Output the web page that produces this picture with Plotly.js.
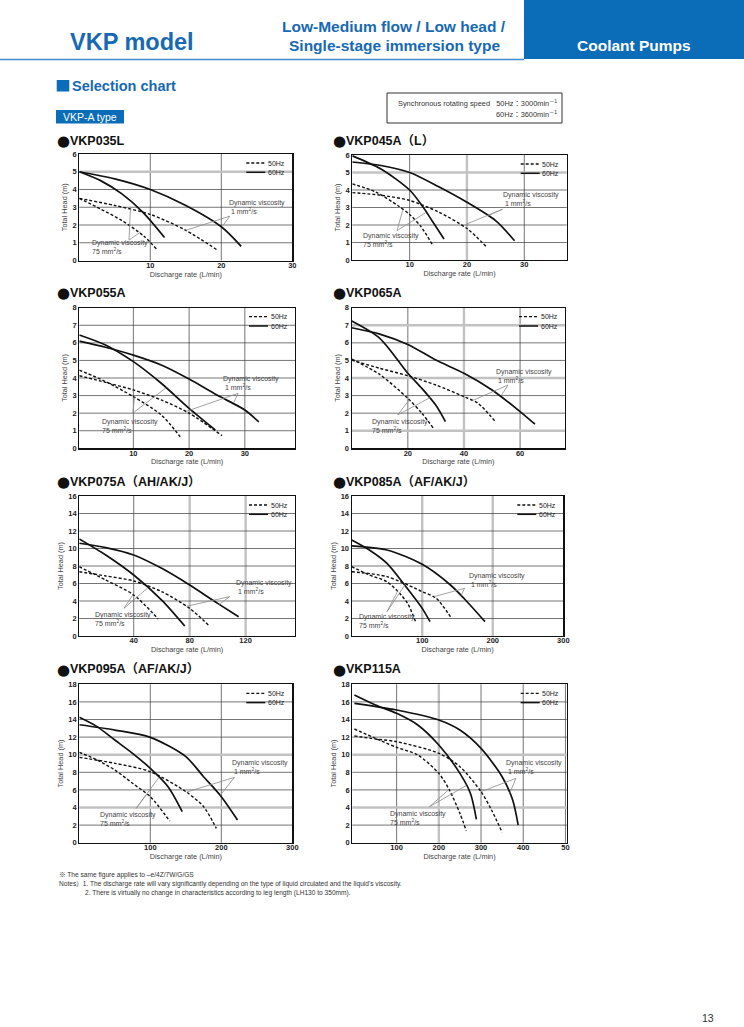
<!DOCTYPE html>
<html><head><meta charset="utf-8">
<script src="https://cdn.plot.ly/plotly-3.0.1.min.js"></script>
<style>html,body{margin:0;padding:0;background:#fff}#chart{width:744px;height:1027px}</style>
</head><body><div id="chart"></div>
<script>
// ================= DATA =================
// Discharge rate q (L/min) and total head h (m); 60Hz solid / 50Hz dashed; 1 mm2/s and 75 mm2/s
const vkp035l_q60_1  = [0,5,10,15,20,22.8],  vkp035l_h60_1  = [5.0,4.6,4.0,3.1,1.9,0.8];
const vkp035l_q60_75 = [0,3,6,9,12],         vkp035l_h60_75 = [5.0,4.5,3.75,2.7,1.3];
const vkp035l_q50_1  = [0,5,10,15,19.4],     vkp035l_h50_1  = [3.5,3.1,2.6,1.7,0.6];
const vkp035l_q50_75 = [0,3,6,9,11],         vkp035l_h50_75 = [3.5,2.9,2.25,1.4,0.6];

const vkp045a_q60_1  = [0,5,10,15,20,25,28.3], vkp045a_h60_1  = [5.6,5.4,5.0,4.2,3.3,2.25,1.1];
const vkp045a_q60_75 = [0,5,10,12.4,14,16],    vkp045a_h60_75 = [5.95,5.2,4.0,3.0,2.2,1.2];
const vkp045a_q50_1  = [0,5,10,15,20,23.4],    vkp045a_h50_1  = [3.85,3.7,3.4,2.75,1.8,0.75];
const vkp045a_q50_75 = [0,4,8,10,12,14.1],     vkp045a_h50_75 = [4.35,3.9,3.1,2.6,1.9,0.8];

const vkp055a_q60_1  = [0.3,5,10,15,20,25,30,32.5], vkp055a_h60_1  = [6.1,5.75,5.3,4.74,3.94,3.03,2.18,1.5];
const vkp055a_q60_75 = [0.3,5,10,15,20,24.7],       vkp055a_h60_75 = [6.45,5.88,4.93,3.7,2.27,1.04];
const vkp055a_q50_1  = [0.3,5,10,15,20,25.9],       vkp055a_h50_1  = [4.13,3.75,3.32,2.75,2.0,0.72];
const vkp055a_q50_75 = [0.3,5,10,15,18.4],          vkp055a_h50_75 = [4.45,3.8,2.94,1.9,0.66];

const vkp065a_q60_1  = [0,10,20,30,40,50,60,65.3], vkp065a_h60_1  = [6.86,6.5,5.91,5.02,4.27,3.32,2.09,1.37];
const vkp065a_q60_75 = [0,10,20,25,30,33.4],       vkp065a_h60_75 = [7.24,6.26,4.27,3.41,2.45,1.52];
const vkp065a_q50_1  = [0,10,20,30,40,45,51],      vkp065a_h50_1  = [5.02,4.55,4.13,3.6,2.94,2.56,1.55];
const vkp065a_q50_75 = [0,10,20,25,29.3],          vkp065a_h50_75 = [5.08,4.2,2.84,2.0,1.1];

const vkp075a_q60_1  = [1,20,40,60,80,100,115], vkp075a_h60_1  = [10.6,10.1,9.26,7.73,5.83,3.73,2.2];
const vkp075a_q60_75 = [1,20,40,60,76.5],       vkp075a_h60_75 = [11.1,9.26,6.97,4.1,1.14];
const vkp075a_q50_1  = [1,20,40,60,80,93.8],    vkp075a_h50_1  = [7.35,6.86,6.29,5.07,3.16,1.18];
const vkp075a_q50_75 = [1,20,40,57.5],          vkp075a_h50_75 = [7.92,6.4,4.69,1.94];

const vkp085a_q60_1  = [0,50,100,140,160,189],  vkp085a_h60_1  = [10.3,9.83,8.19,5.83,4.23,1.64];
const vkp085a_q60_75 = [0,25,50,75,100,111],    vkp085a_h60_75 = [10.97,9.83,8.3,5.83,3.16,1.64];
const vkp085a_q50_1  = [0,50,100,120,140],      vkp085a_h50_1  = [7.35,6.78,5.07,4.3,2.2];
const vkp085a_q50_75 = [0,25,50,70,80,90.5],    vkp085a_h50_75 = [7.92,6.97,6.2,4.69,3.62,1.64];

const vkp095a_q60_1  = [0,50,100,150,175,200,222.8], vkp095a_h60_1  = [13.4,12.8,11.97,9.78,7.5,5.23,2.58];
const vkp095a_q60_75 = [0,25,50,75,100,125,145],     vkp095a_h60_75 = [14.25,13.19,11.67,10.16,8.45,6.37,3.52];
const vkp095a_q50_1  = [0,50,100,150,175,193],       vkp095a_h50_1  = [9.7,9.02,8.07,5.8,4.1,1.63];
const vkp095a_q50_75 = [0,25,50,75,100,127.4],       vkp095a_h50_75 = [10.27,9.4,8.26,6.75,5.23,2.46];

const vkp115a_q60_1  = [0,100,200,250,300,350,375,388], vkp115a_h60_1  = [15.84,15.08,13.94,12.8,10.72,7.5,4.85,2.0];
const vkp115a_q60_75 = [0,50,100,150,200,250,275,289],  vkp115a_h60_75 = [16.79,15.65,14.7,13.38,11.1,7.88,5.6,2.65];
const vkp115a_q50_1  = [0,50,100,200,250,300,325,350],  vkp115a_h50_1  = [12.13,11.78,11.48,10.16,8.64,5.8,3.71,1.17];
const vkp115a_q50_75 = [0,50,100,150,200,225,250,265],  vkp115a_h50_75 = [12.92,11.86,10.84,9.97,7.88,5.99,3.33,1.36];

// Tick labels
const ticksX_035l = [10,20,30], ticksX_045a = [10,20,30], ticksX_055a = [10,20,30], ticksX_065a = [20,40,60];
const ticksX_075a = [40,80,120], ticksX_085a = [100,200,300], ticksX_095a = [100,200,300];
const ticksX_115a = [100,200,300,400,500], tickText_115a = ['100','200','300','400','50'];
const ticksY_6 = [0,1,2,3,4,5,6], ticksY_8 = [0,1,2,3,4,5,6,7,8];
const ticksY_16 = [0,2,4,6,8,10,12,14,16], ticksY_18 = [0,2,4,6,8,10,12,14,16,18];

// Texts
const modelNames = ['VKP035L','VKP045A（L）','VKP055A','VKP065A','VKP075A（AH/AK/J）','VKP085A（AF/AK/J）','VKP095A（AF/AK/J）','VKP115A'];
const legendLabels = ['50Hz','60Hz'];
const viscLabel1 = 'Dynamic viscosity<br> 1 mm<sup>2</sup>/s';
const viscLabel75 = 'Dynamic viscosity<br>75 mm<sup>2</sup>/s';

// ================= LAYOUT / STYLE =================
const W = 744, H = 1027;
const PX = x => x / W, PY = y => 1 - y / H;
const FONT = 'Liberation Sans, Arial, Noto Sans CJK JP, DejaVu Sans, sans-serif';
const BLUE = '#0b6cb8';

const panels = [
 {t:0, tp:[56,141], box:[79.3,292.3,154,260.5], xr:[0,30], yr:[0,6], xt:ticksX_035l, yt:ticksY_6,
  c:[[vkp035l_q60_1,vkp035l_h60_1,0],[vkp035l_q60_75,vkp035l_h60_75,0],[vkp035l_q50_1,vkp035l_h50_1,1],[vkp035l_q50_75,vkp035l_h50_75,1]],
  gx:[], gy:[5],
  a1:{x:20.8,y:3.03,ap:[21.2,2.5],to:[[15,1.7],[20.2,1.95]]},
  a75:{x:1.5,y:0.75,ap:[7.0,1.15],to:[[7.2,2.9],[8.6,1.6]]}},
 {t:1, tp:[332,141], box:[352.3,566.7,155,260], xr:[0,37.4], yr:[0,6], xt:ticksX_045a, yt:ticksY_6,
  c:[[vkp045a_q60_1,vkp045a_h60_1,0],[vkp045a_q60_75,vkp045a_h60_75,0],[vkp045a_q50_1,vkp045a_h50_1,1],[vkp045a_q50_75,vkp045a_h50_75,1]],
  gx:[20], gy:[5],
  a1:{x:26,y:3.5,ap:[26.2,2.9],to:[[19.9,2.05],[23.8,2.55]]},
  a75:{x:1.6,y:1.14,ap:[7.8,1.68],to:[[8.8,2.85],[12.8,2.7]]}},
 {t:2, tp:[56,293], box:[79.3,295,307.7,448.3], xr:[0.3,39], yr:[0,8], xt:ticksX_055a, yt:ticksY_8,
  c:[[vkp055a_q60_1,vkp055a_h60_1,0],[vkp055a_q60_75,vkp055a_h60_75,0],[vkp055a_q50_1,vkp055a_h50_1,1],[vkp055a_q50_75,vkp055a_h50_75,1]],
  gx:[], gy:[],
  a1:{x:25.8,y:3.74,ap:[28.8,3.13],to:[[19.5,2.1],[28,2.6]]},
  a75:{x:4.1,y:1.26,ap:[9.9,2.0],to:[[10.2,2.9],[15.9,3.45]]}},
 {t:3, tp:[332,293], box:[351.7,565,307.7,448.3], xr:[0,76], yr:[0,8], xt:ticksX_065a, yt:ticksY_8,
  c:[[vkp065a_q60_1,vkp065a_h60_1,0],[vkp065a_q60_75,vkp065a_h60_75,0],[vkp065a_q50_1,vkp065a_h50_1,1],[vkp065a_q50_75,vkp065a_h50_75,1]],
  gx:[40], gy:[7,4,1],
  a1:{x:50.8,y:4.13,ap:[55.7,3.6],to:[[42.8,2.7],[53.3,3.0]]},
  a75:{x:6.4,y:1.26,ap:[16.4,1.9],to:[[20.5,2.75],[28.1,2.9]]}},
 {t:4, tp:[56,482], box:[79.3,295,496,636], xr:[1.1,155.3], yr:[0,16], xt:ticksX_075a, yt:ticksY_16,
  c:[[vkp075a_q60_1,vkp075a_h60_1,0],[vkp075a_q60_75,vkp075a_h60_75,0],[vkp075a_q50_1,vkp075a_h50_1,1],[vkp075a_q50_75,vkp075a_h50_75,1]],
  gx:[80,120], gy:[],
  a1:{x:112,y:5.6,ap:[108.6,4.5],to:[[77.7,3.4],[101,3.6]]},
  a75:{x:10.6,y:1.93,ap:[33,3.16],to:[[39.6,4.75],[50,5.5]]}},
 {t:5, tp:[332,482], box:[351.7,563.3,496,636], xr:[0,300], yr:[0,16], xt:ticksX_085a, yt:ticksY_16,
  c:[[vkp085a_q60_1,vkp085a_h60_1,0],[vkp085a_q60_75,vkp085a_h60_75,0],[vkp085a_q50_1,vkp085a_h50_1,1],[vkp085a_q50_75,vkp085a_h50_75,1]],
  gx:[100,200], gy:[],
  a1:{x:164,y:6.45,ap:[160,5.45],to:[[116.7,4.5],[155,4.6]]},
  a75:{x:7,y:1.73,ap:[50,2.78],to:[[65,5.1],[76,5.9]]}},
 {t:6, tp:[56,669], box:[79.3,292.3,684.3,842.7], xr:[0,300], yr:[0,18], xt:ticksX_095a, yt:ticksY_18,
  c:[[vkp095a_q60_1,vkp095a_h60_1,0],[vkp095a_q60_75,vkp095a_h60_75,0],[vkp095a_q50_1,vkp095a_h50_1,1],[vkp095a_q50_75,vkp095a_h50_75,1]],
  gx:[], gy:[10,4],
  a1:{x:212.6,y:8.64,ap:[218.6,7.43],to:[[151,5.75],[198.6,5.4]]},
  a75:{x:26.5,y:2.71,ap:[80,3.9],to:[[95,5.5],[112,7.4]]}},
 {t:7, tp:[332,669], box:[352.3,566.7,684.3,842.7], xr:[-5,503], yr:[0,18], xt:ticksX_115a, xtt:tickText_115a, yt:ticksY_18,
  c:[[vkp115a_q60_1,vkp115a_h60_1,0],[vkp115a_q60_75,vkp115a_h60_75,0],[vkp115a_q50_1,vkp115a_h50_1,1],[vkp115a_q50_75,vkp115a_h50_75,1]],
  gx:[200], gy:[10,4],
  a1:{x:354,y:8.6,ap:[382.5,7.31],to:[[300,5.8],[368,5.6]]},
  a75:{x:80,y:2.8,ap:[178,4.09],to:[[224,6.05],[265,6.5]]}}
];

const traces = [];
const layout = {
  width: W, height: H, margin: {l:0, r:0, t:0, b:0}, showlegend: false,
  paper_bgcolor: '#fff', plot_bgcolor: '#fff', font: {family: FONT, color: '#222'},
  shapes: [], annotations: []
};

// ---------- page header ----------
layout.shapes.push({type:'rect', xref:'paper', yref:'paper', x0:PX(524), x1:PX(744), y0:PY(0), y1:PY(59), fillcolor:BLUE, line:{width:0}});
layout.shapes.push({type:'line', xref:'paper', yref:'paper', x0:0, x1:PX(524), y0:PY(59.5), y1:PY(59.5), line:{color:'#3d8ad0', width:1.6}});
layout.shapes.push({type:'rect', xref:'paper', yref:'paper', x0:PX(56.7), x1:PX(69.3), y0:PY(91.5), y1:PY(80), fillcolor:BLUE, line:{width:0}});
layout.shapes.push({type:'rect', xref:'paper', yref:'paper', x0:PX(56), x1:PX(124), y0:PY(123.5), y1:PY(110), fillcolor:BLUE, line:{width:0}});
layout.shapes.push({type:'rect', xref:'paper', yref:'paper', x0:PX(387), x1:PX(562), y0:PY(123), y1:PY(93), line:{color:'#333', width:1}});

function A(text, x, y, opt) {
  layout.annotations.push(Object.assign({text, x:PX(x), y:PY(y), xref:'paper', yref:'paper', showarrow:false,
    xanchor:'left', yanchor:'middle', font:{family:FONT, size:10, color:'#222'}}, opt || {}));
}
A('<b>VKP model</b>', 132, 42, {xanchor:'center', font:{family:FONT, size:23.5, color:'#1769b3'}});
A('<b>Low-Medium flow / Low head /</b>', 394, 26.5, {xanchor:'center', font:{family:FONT, size:15.5, color:'#1769b3'}});
A('<b>Single-stage immersion type</b>', 394, 45.5, {xanchor:'center', font:{family:FONT, size:15.5, color:'#1769b3'}});
A('<b>Coolant Pumps</b>', 634, 45, {xanchor:'center', font:{family:FONT, size:15.5, color:'#fff'}});
A('<b>Selection chart</b>', 70, 86, {font:{family:FONT, size:14.5, color:'#1769b3'}});
A('VKP-A type', 90, 117, {xanchor:'center', font:{family:FONT, size:10.5, color:'#fff'}});
A('Synchronous rotating speed   50Hz：3000min<sup>－1</sup>', 559, 103, {xanchor:'right', font:{family:FONT, size:7.4, color:'#333'}});
A('60Hz：3600min<sup>－1</sup>', 559, 114, {xanchor:'right', font:{family:FONT, size:7.4, color:'#333'}});

// ---------- notes ----------
A('※ The same figure applies to –e/4Z/7W/G/GS', 56.5, 874.5, {font:{family:FONT, size:6.6, color:'#333'}});
A('Notes）1. The discharge rate will vary significantly depending on the type of liquid circulated and the liquid\'s viscosity.', 56.5, 883.5, {font:{family:FONT, size:6.6, color:'#333'}});
A('2. There is virtually no change in characteristics according to leg length (LH130 to 350mm).', 82.5, 892.5, {font:{family:FONT, size:6.6, color:'#333'}});
A('13', 708, 1018, {xanchor:'center', font:{family:FONT, size:10.5, color:'#333'}});

// ---------- panels ----------
panels.forEach((p, i) => {
  const n = i === 0 ? '' : String(i + 1);
  const xa = 'x' + n, ya = 'y' + n;
  const [L, R, T, B] = p.box;
  layout['xaxis' + n] = {
    domain:[PX(L), PX(R)], anchor:ya, range:p.xr, tickvals:p.xt, ticktext:p.xtt,
    showgrid:false, zeroline:false,
    showline:true, mirror:true, linecolor:'#111', linewidth:1.2, ticks:'', automargin:false,
    ticklabelstandoff:-3,
    tickfont:{family:FONT, size:7.5, color:'#222', weight:'bold'},
    title:{text:'Discharge rate (L/min)', standoff:0, font:{family:FONT, size:7.3, color:'#444'}}
  };
  layout['yaxis' + n] = {
    domain:[PY(B), PY(T)], anchor:xa, range:p.yr, tickvals:p.yt,
    showgrid:false, zeroline:false,
    showline:true, mirror:true, linecolor:'#111', linewidth:1.2, ticks:'', automargin:false,
    tickfont:{family:FONT, size:7.5, color:'#222', weight:'bold'},
    title:{text:'Total Head (m)', standoff:3, font:{family:FONT, size:7.3, color:'#444'}}
  };
  // grid lines at the tick values (dark; a few scan-faded ones light grey)
  p.xt.forEach(v => {
    if (v <= p.xr[0] || v >= p.xr[1]) return;
    const light = p.gx.includes(v);
    layout.shapes.push({type:'line', xref:xa, yref:ya + ' domain', x0:v, x1:v, y0:0, y1:1, layer:'below',
      line:{color: light ? '#c2c2c2' : '#3a3a3a', width: light ? 2.4 : 0.7}});
  });
  p.yt.forEach(v => {
    if (v <= p.yr[0] || v >= p.yr[1]) return;
    const light = p.gy.includes(v);
    layout.shapes.push({type:'line', xref:xa + ' domain', yref:ya, x0:0, x1:1, y0:v, y1:v, layer:'below',
      line:{color: light ? '#c2c2c2' : '#3a3a3a', width: light ? 2.4 : 0.7}});
  });
  // curves
  p.c.forEach(([q, h, dashed]) => {
    traces.push({type:'scatter', mode:'lines', x:q, y:h, xaxis:xa, yaxis:ya, hoverinfo:'skip',
      line:{shape:'spline', smoothing:0.8, color:'#111', width:dashed ? 1.4 : 1.7, dash:dashed ? '3px,2px' : 'solid'}});
  });
  // legend (inside top-right)
  [0, 1].forEach(k => {
    const yy = T + 9 + k * 9.3;
    layout.shapes.push({type:'line', xref:'paper', yref:'paper', x0:PX(R - 46), x1:PX(R - 27), y0:PY(yy), y1:PY(yy),
      line:{color:'#111', width:k ? 1.5 : 1.3, dash:k ? 'solid' : '3px,2px'}});
    A(legendLabels[k], R - 26.5, yy, {font:{family:FONT, size:7, color:'#222'}});
  });
  // viscosity labels with leader lines
  [[p.a1, viscLabel1], [p.a75, viscLabel75]].forEach(([a, txt]) => {
    layout.annotations.push({text:txt, x:a.x, y:a.y, xref:xa, yref:ya, showarrow:false, xanchor:'left', yanchor:'middle', align:'left',
      font:{family:FONT, size:7, color:'#444'}});
    a.to.forEach(([tx, ty]) => layout.shapes.push({type:'line', xref:xa, yref:ya, x0:a.ap[0], y0:a.ap[1], x1:tx, y1:ty,
      line:{color:'#8a8a8a', width:0.8}}));
  });
  // model title: large bullet + bold name
  A('●', p.tp[0] - 1, p.tp[1] + 0.5, {font:{family:'DejaVu Sans, sans-serif', size:15, color:'#111'}});
  A('<b>' + modelNames[p.t] + '</b>', p.tp[0] + 12, p.tp[1], {font:{family:FONT, size:12.5, color:'#111'}});
});

Plotly.newPlot('chart', traces, layout, {staticPlot:true, displayModeBar:false});
</script></body></html>
